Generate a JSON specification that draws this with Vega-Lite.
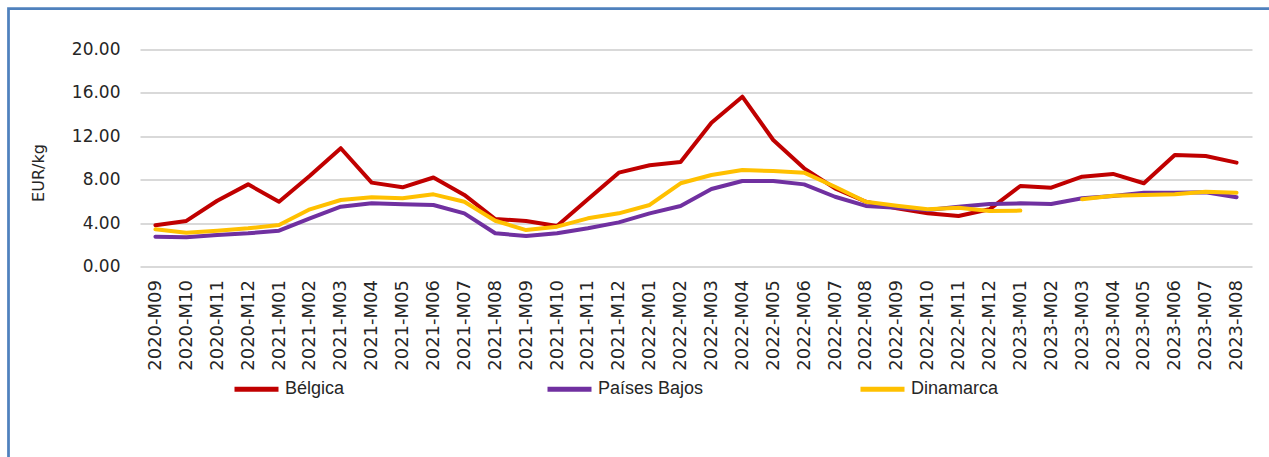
{
  "$schema": "https://vega.github.io/schema/vega-lite/v6.json",
  "width": 1262.5,
  "height": 450.5,
  "autosize": {"type": "none"},
  "padding": {"left": 8.5, "top": 8.5, "right": -2, "bottom": -2},
  "background": "white",
  "data": {
    "values": [
      {"m": "2020-M09", "Bélgica": 3.8, "Países Bajos": 2.75, "Dinamarca": 3.43},
      {"m": "2020-M10", "Bélgica": 4.2, "Países Bajos": 2.69, "Dinamarca": 3.12},
      {"m": "2020-M11", "Bélgica": 6.06, "Países Bajos": 2.9, "Dinamarca": 3.3},
      {"m": "2020-M12", "Bélgica": 7.57, "Países Bajos": 3.06, "Dinamarca": 3.52},
      {"m": "2021-M01", "Bélgica": 5.97, "Países Bajos": 3.3, "Dinamarca": 3.82},
      {"m": "2021-M02", "Bélgica": 8.37, "Países Bajos": 4.44, "Dinamarca": 5.27},
      {"m": "2021-M03", "Bélgica": 10.9, "Países Bajos": 5.51, "Dinamarca": 6.13},
      {"m": "2021-M04", "Bélgica": 7.73, "Países Bajos": 5.82, "Dinamarca": 6.38},
      {"m": "2021-M05", "Bélgica": 7.3, "Países Bajos": 5.73, "Dinamarca": 6.29},
      {"m": "2021-M06", "Bélgica": 8.2, "Países Bajos": 5.67, "Dinamarca": 6.65},
      {"m": "2021-M07", "Bélgica": 6.6, "Países Bajos": 4.9, "Dinamarca": 5.97},
      {"m": "2021-M08", "Bélgica": 4.38, "Países Bajos": 3.06, "Dinamarca": 4.22},
      {"m": "2021-M09", "Bélgica": 4.2, "Países Bajos": 2.81, "Dinamarca": 3.36},
      {"m": "2021-M10", "Bélgica": 3.73, "Países Bajos": 3.06, "Dinamarca": 3.67},
      {"m": "2021-M11", "Bélgica": 6.2, "Países Bajos": 3.52, "Dinamarca": 4.44},
      {"m": "2021-M12", "Bélgica": 8.65, "Países Bajos": 4.07, "Dinamarca": 4.9},
      {"m": "2022-M01", "Bélgica": 9.33, "Países Bajos": 4.9, "Dinamarca": 5.67},
      {"m": "2022-M02", "Bélgica": 9.63, "Países Bajos": 5.58, "Dinamarca": 7.67},
      {"m": "2022-M03", "Bélgica": 13.25, "Países Bajos": 7.14, "Dinamarca": 8.43},
      {"m": "2022-M04", "Bélgica": 15.65, "Países Bajos": 7.88, "Dinamarca": 8.89},
      {"m": "2022-M05", "Bélgica": 11.66, "Países Bajos": 7.88, "Dinamarca": 8.8},
      {"m": "2022-M06", "Bélgica": 9.05, "Países Bajos": 7.57, "Dinamarca": 8.65},
      {"m": "2022-M07", "Bélgica": 7.2, "Países Bajos": 6.43, "Dinamarca": 7.35},
      {"m": "2022-M08", "Bélgica": 5.97, "Países Bajos": 5.58, "Dinamarca": 5.97},
      {"m": "2022-M09", "Bélgica": 5.36, "Países Bajos": 5.42, "Dinamarca": 5.6},
      {"m": "2022-M10", "Bélgica": 4.9, "Países Bajos": 5.2, "Dinamarca": 5.27},
      {"m": "2022-M11", "Bélgica": 4.65, "Países Bajos": 5.5, "Dinamarca": 5.42},
      {"m": "2022-M12", "Bélgica": 5.27, "Países Bajos": 5.76, "Dinamarca": 5.12},
      {"m": "2023-M01", "Bélgica": 7.42, "Países Bajos": 5.82, "Dinamarca": 5.15},
      {"m": "2023-M02", "Bélgica": 7.26, "Países Bajos": 5.76, "Dinamarca": null},
      {"m": "2023-M03", "Bélgica": 8.28, "Países Bajos": 6.29, "Dinamarca": 6.19},
      {"m": "2023-M04", "Bélgica": 8.53, "Países Bajos": 6.5, "Dinamarca": 6.53},
      {"m": "2023-M05", "Bélgica": 7.67, "Países Bajos": 6.8, "Dinamarca": 6.59},
      {"m": "2023-M06", "Bélgica": 10.28, "Países Bajos": 6.8, "Dinamarca": 6.65},
      {"m": "2023-M07", "Bélgica": 10.18, "Países Bajos": 6.84, "Dinamarca": 6.9},
      {"m": "2023-M08", "Bélgica": 9.57, "Países Bajos": 6.38, "Dinamarca": 6.8}
    ]
  },
  "transform": [
    {"fold": ["Bélgica", "Países Bajos", "Dinamarca"], "as": ["serie", "valor"]}
  ],
  "mark": {
    "type": "line",
    "strokeWidth": 4,
    "strokeJoin": "round",
    "strokeCap": "round",
    "invalid": "break-paths-show-domains"
  },
  "encoding": {
    "x": {
      "field": "m",
      "type": "ordinal",
      "sort": null,
      "scale": {"range": [131.5, 1243.5]},
      "axis": {
        "title": null,
        "offset": -192.5,
        "labelAngle": 270,
        "labelFont": "DejaVu Sans",
        "labelFontSize": 18,
        "labelColor": "#262626",
        "labelPadding": 13,
        "ticks": false,
        "domain": false,
        "grid": false
      }
    },
    "y": {
      "field": "valor",
      "type": "quantitative",
      "scale": {"domain": [0, 20], "nice": false, "range": [258, 41]},
      "axis": {
        "title": "EUR/kg",
        "offset": -131.5,
        "titleFont": "DejaVu Sans",
        "titleFontSize": 16,
        "titleFontWeight": "normal",
        "titleColor": "#262626",
        "titleAngle": 270,
        "titleX": -102,
        "titleY": 164,
        "titleAlign": "center",
        "titleBaseline": "middle",
        "values": [0, 4, 8, 12, 16, 20],
        "format": ".2f",
        "labelFont": "DejaVu Sans",
        "labelFontSize": 17,
        "labelColor": "#262626",
        "labelPadding": 20,
        "ticks": false,
        "domain": false,
        "grid": true,
        "gridColor": "#D9D9D9",
        "gridWidth": 2
      }
    },
    "color": {
      "field": "serie",
      "type": "nominal",
      "scale": {
        "domain": ["Bélgica", "Países Bajos", "Dinamarca"],
        "range": ["#C00000", "#7030A0", "#FFC000"]
      },
      "legend": {
        "title": null,
        "orient": "none",
        "direction": "horizontal",
        "legendX": 223.5,
        "legendY": 356,
        "gridAlign": "all",
        "columnPadding": 146,
        "symbolType": "stroke",
        "symbolSize": 1936,
        "symbolStrokeWidth": 5,
        "labelFont": "Liberation Sans",
        "labelFontSize": 18,
        "labelColor": "#262626",
        "labelOffset": 4
      }
    }
  },
  "config": {
    "view": {"stroke": "#4F81BD", "strokeWidth": 2.75, "fill": "white"}
  }
}
